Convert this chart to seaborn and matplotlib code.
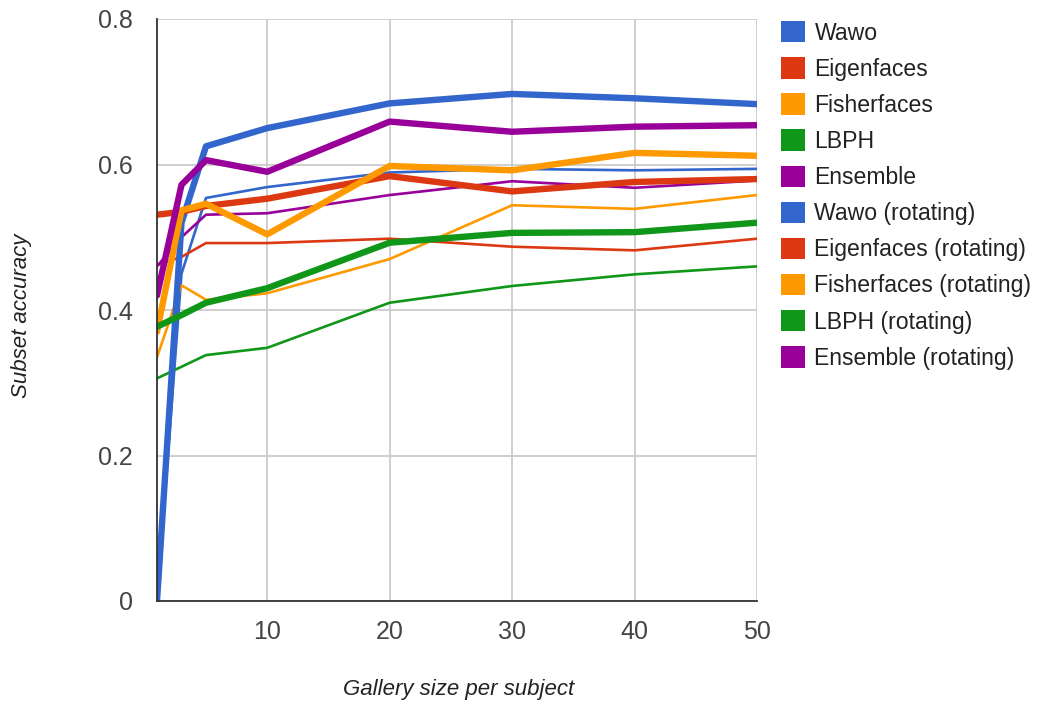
import matplotlib
matplotlib.use("Agg")
import matplotlib.pyplot as plt
from matplotlib.patches import Patch
import seaborn as sns
import pandas as pd

# Gallery sizes (images per subject)
gallery_size = [1, 3, 5, 10, 20, 30, 40, 50]

# Subset accuracy per method
wawo = [0.0, 0.52, 0.625, 0.650, 0.684, 0.697, 0.691, 0.683]
eigenfaces = [0.531, 0.535, 0.543, 0.553, 0.584, 0.563, 0.576, 0.580]
fisherfaces = [0.37, 0.537, 0.546, 0.504, 0.598, 0.592, 0.616, 0.612]
lbph = [0.377, 0.393, 0.410, 0.430, 0.4925, 0.506, 0.507, 0.520]
ensemble = [0.42, 0.572, 0.606, 0.590, 0.659, 0.645, 0.652, 0.654]

wawo_rot = [0.0, 0.45, 0.554, 0.569, 0.589, 0.594, 0.592, 0.594]
eigenfaces_rot = [0.462, 0.473, 0.492, 0.492, 0.498, 0.487, 0.482, 0.498]
fisherfaces_rot = [0.335, 0.434, 0.414, 0.423, 0.470, 0.544, 0.539, 0.558]
lbph_rot = [0.306, 0.322, 0.338, 0.348, 0.410, 0.433, 0.449, 0.460]
ensemble_rot = [0.46, 0.50, 0.531, 0.533, 0.558, 0.577, 0.568, 0.578]

series_names = ["Wawo", "Eigenfaces", "Fisherfaces", "LBPH", "Ensemble",
                "Wawo (rotating)", "Eigenfaces (rotating)", "Fisherfaces (rotating)",
                "LBPH (rotating)", "Ensemble (rotating)"]
series_values = [wawo, eigenfaces, fisherfaces, lbph, ensemble,
                 wawo_rot, eigenfaces_rot, fisherfaces_rot, lbph_rot, ensemble_rot]

palette = ["#3366cc", "#dc3912", "#ff9900", "#109618", "#990099"] * 2
widths = [4.6] * 5 + [1.9] * 5

x_ticks = [10, 20, 30, 40, 50]
y_ticks = [0, 0.2, 0.4, 0.6, 0.8]
y_tick_labels = ["0", "0.2", "0.4", "0.6", "0.8"]

sns.set_theme(style="white")
plt.rcParams["font.family"] = ["Liberation Sans", "DejaVu Sans"]

fig = plt.figure(figsize=(10.4, 7.04), dpi=100)
ax = fig.add_axes([157 / 1040, 1 - 601 / 704, 600 / 1040, 582 / 704])

frames = []
for name, vals in zip(series_names, series_values):
    frames.append(pd.DataFrame({"gallery": gallery_size, "accuracy": vals, "series": name}))
df = pd.concat(frames, ignore_index=True)

# draw thin lines first so the thick ones sit on top
order = list(range(5, 10)) + list(range(0, 5))
for i in order:
    sub = df[df["series"] == series_names[i]]
    sns.lineplot(data=sub, x="gallery", y="accuracy", color=palette[i],
                 linewidth=widths[i], ax=ax, legend=False, zorder=3,
                 solid_joinstyle="round")

ax.set_xlim(1, 50)
ax.set_ylim(0, 0.8)
ax.set_xticks(x_ticks)
ax.set_xticklabels([str(t) for t in x_ticks])
ax.set_yticks(y_ticks)
ax.set_yticklabels(y_tick_labels)
ax.grid(True, color="#cccccc", linewidth=1.3, zorder=0)
ax.set_axisbelow(True)
ax.tick_params(axis="both", length=0, labelsize=18, colors="#444444")
ax.tick_params(axis="x", pad=14)
ax.tick_params(axis="y", pad=17.5)

for side in ["top", "right"]:
    ax.spines[side].set_visible(False)
for side in ["left", "bottom"]:
    ax.spines[side].set_color("#333333")
    ax.spines[side].set_linewidth(1.3)
    ax.spines[side].set_zorder(4)

ax.set_xlabel("Gallery size per subject", fontsize=16, style="italic",
              color="#222222", va="center")
ax.xaxis.set_label_coords(0.503, -(690 - 601) / 582)
ax.set_ylabel("Subset accuracy", fontsize=16, style="italic",
              color="#222222", va="center")
ax.yaxis.set_label_coords(-(157 - 22) / 600, 0.49)

handles = [Patch(facecolor=palette[i], edgecolor="none", label=series_names[i])
           for i in range(10)]
leg = fig.legend(handles=handles, loc="upper left",
                 bbox_to_anchor=(781 / 1040, 1 - 21 / 704),
                 frameon=False, fontsize=16.6, handlelength=1.05, handleheight=1.05,
                 handletextpad=0.4, labelspacing=0.545, borderpad=0, borderaxespad=0)
for t in leg.get_texts():
    t.set_color("#222222")

fig.savefig("out.png", dpi=100)
